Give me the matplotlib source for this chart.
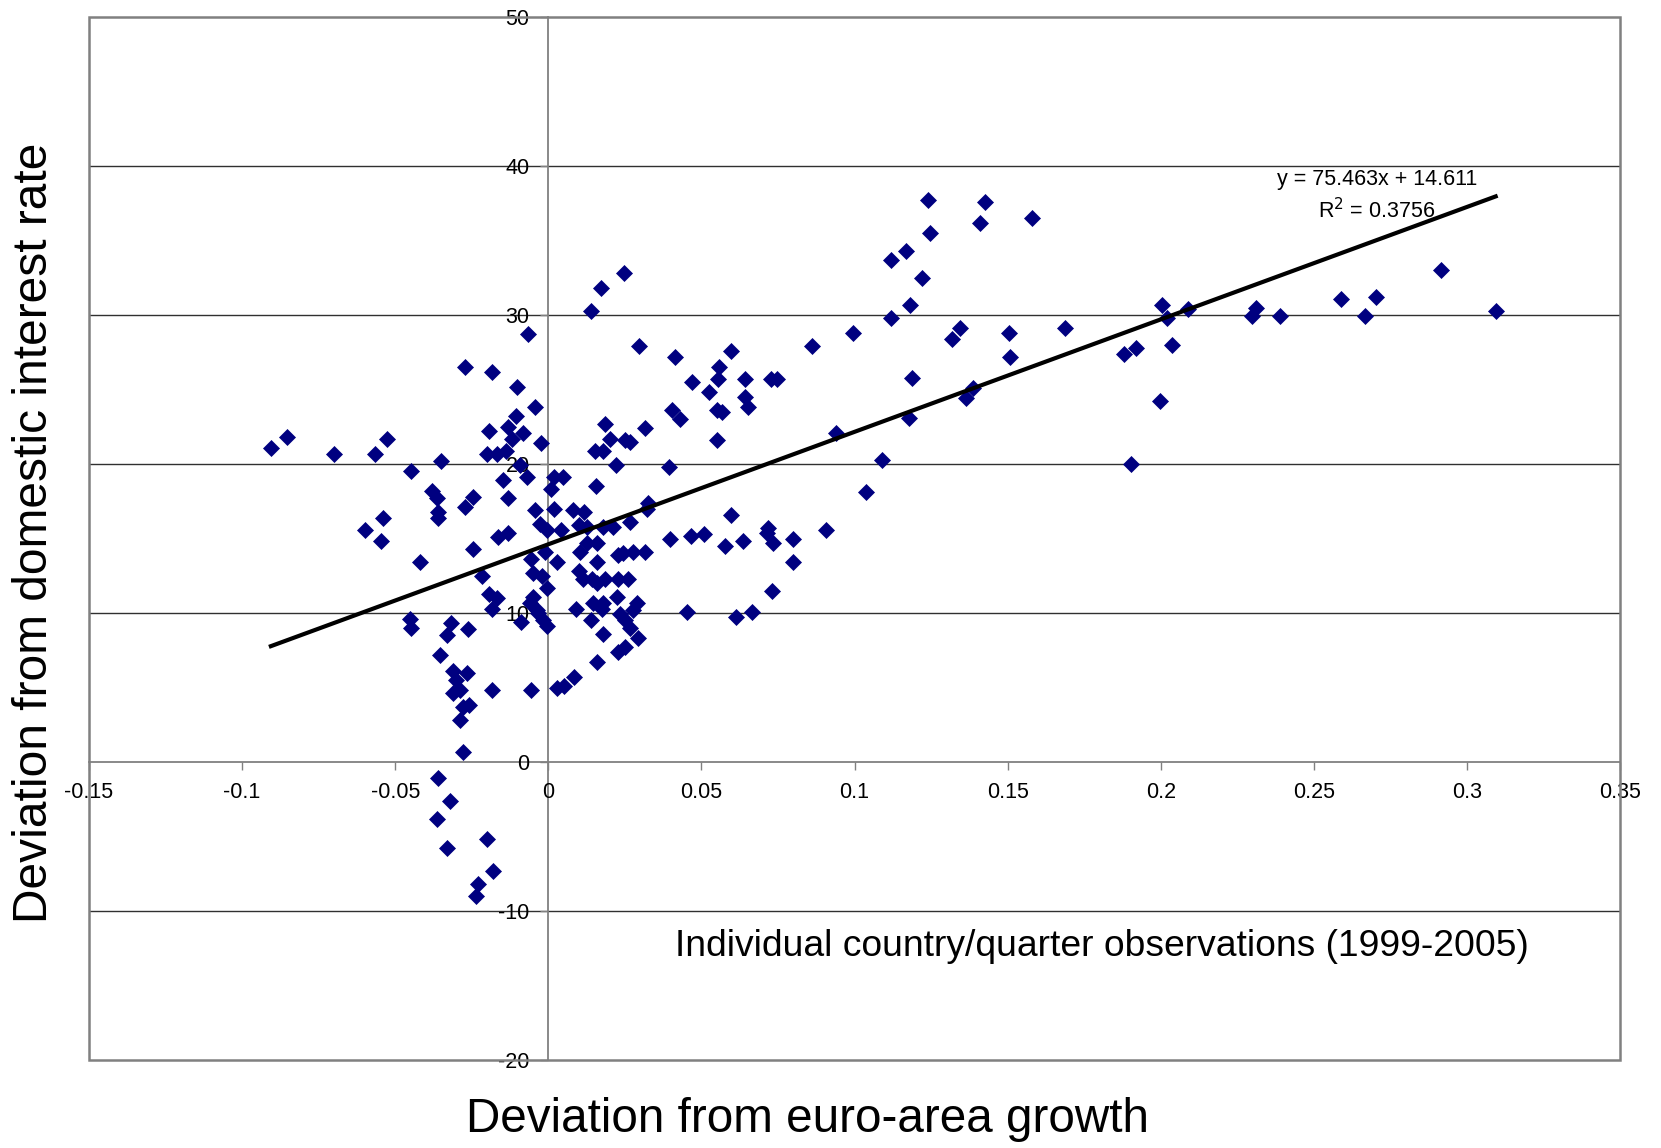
import matplotlib
matplotlib.use("Agg")
import matplotlib.pyplot as plt
import matplotlib.patches as mpatches
import numpy as np

plt.rcParams['font.family'] = ['Liberation Sans', 'DejaVu Sans']

# ---- data ----
growth_dev = [
    -0.0906, -0.0854, -0.070, -0.0566, -0.0527, -0.0597, -0.054, -0.0548, -0.0449, -0.042,
    -0.0452, -0.045, -0.038, -0.0364, -0.0351, -0.036, -0.036, -0.0354, -0.0318, -0.033,
    -0.031, -0.0267, -0.030, -0.031, -0.029, -0.028, -0.026, -0.029, -0.028, -0.036,
    -0.032, -0.0364, -0.033, -0.020, -0.018, -0.023, -0.0237, -0.0273, -0.0263, -0.0247,
    -0.0273, -0.0247, -0.0217, -0.0185, -0.0194, -0.020, -0.0168, -0.0139, -0.0149, -0.0132,
    -0.0165, -0.0132, -0.0194, -0.0168, -0.0185, -0.0185, -0.0132, -0.0119, -0.0106, -0.0103,
    -0.0083, -0.0093, -0.0067, -0.007, -0.0044, -0.0024, -0.0045, -0.0028, -0.0005, -0.0057,
    -0.001, -0.005, -0.002, -0.0005, -0.005, -0.006, -0.0038, -0.009, -0.0034, -0.0018,
    -0.0005, -0.0057,
    0.002, 0.0047, 0.001, 0.0018, 0.004, 0.0027, 0.003, 0.005, 0.0083, 0.008,
    0.0116, 0.0099, 0.0126, 0.0178, 0.021, 0.0126, 0.0158, 0.0103, 0.0158, 0.0228,
    0.0099, 0.0113, 0.0142, 0.016, 0.0185, 0.0227, 0.026, 0.0225, 0.009, 0.0145,
    0.0178, 0.0175, 0.014, 0.0178, 0.016, 0.0228, 0.025, 0.0293, 0.0234, 0.025,
    0.0266, 0.0289, 0.0277, 0.0244, 0.0277, 0.0316, 0.0266, 0.0155, 0.0152, 0.018,
    0.0185, 0.020, 0.022, 0.025, 0.0266, 0.0316, 0.0247, 0.0172, 0.0139, 0.0296,
    0.0326, 0.0323, 0.0393, 0.0403, 0.043, 0.0413, 0.0396, 0.0465, 0.0508, 0.0468,
    0.0524, 0.055, 0.0567, 0.0557, 0.0554, 0.055, 0.0596, 0.0596, 0.0576, 0.0453,
    0.0613, 0.0665, 0.0635, 0.0642, 0.0642, 0.0652, 0.0727, 0.0746, 0.0716, 0.0713,
    0.0733, 0.0729, 0.080, 0.080, 0.086, 0.0906, 0.094, 0.0995, 0.1036, 0.109,
    0.1118, 0.1118, 0.1167, 0.118, 0.1187, 0.1178, 0.122, 0.124, 0.1246, 0.132,
    0.1344, 0.1364, 0.1387, 0.141, 0.1426, 0.1504, 0.1507, 0.158, 0.1686, 0.188,
    0.192, 0.1902, 0.1997, 0.2004, 0.202, 0.2036, 0.209, 0.2298, 0.2311, 0.2389,
    0.2588, 0.2667, 0.2703, 0.2915, 0.3094,
]
rate_dev = [
    21.1, 21.8, 20.7, 20.7, 21.7, 15.6, 16.4, 14.8, 19.5, 13.4,
    9.6, 9.0, 18.2, 17.7, 20.2, 16.8, 16.4, 7.2, 9.3, 8.5,
    6.1, 6.0, 5.5, 4.6, 4.8, 3.7, 3.8, 2.8, 0.7, -1.1,
    -2.6, -3.8, -5.8, -5.2, -7.3, -8.2, -9.0, 26.5, 8.9, 17.8,
    17.1, 14.3, 12.5, 26.2, 22.2, 20.7, 20.7, 20.9, 18.9, 17.7,
    15.1, 15.4, 11.3, 11.0, 10.3, 4.8, 22.5, 21.7, 23.2, 25.2,
    22.1, 19.9, 28.7, 19.1, 23.8, 21.4, 16.9, 16.0, 15.6, 13.6,
    14.1, 12.7, 12.5, 11.7, 11.1, 10.7, 10.2, 9.4, 10.0, 9.5,
    9.1, 4.8,
    19.1, 19.1, 18.3, 17.0, 15.6, 13.4, 5.0, 5.1, 5.7, 16.9,
    16.8, 15.9, 15.8, 15.8, 15.8, 14.7, 14.7, 14.1, 13.4, 13.9,
    12.8, 12.3, 12.3, 12.0, 12.3, 12.3, 12.3, 11.1, 10.3, 10.7,
    10.7, 10.3, 9.5, 8.6, 6.7, 7.4, 7.7, 8.3, 9.9, 9.5,
    9.0, 10.7, 10.2, 14.0, 14.1, 14.1, 16.1, 18.5, 20.9, 20.9,
    22.7, 21.7, 19.9, 21.6, 21.5, 22.4, 32.8, 31.8, 30.3, 27.9,
    17.4, 17.0, 19.8, 23.6, 23.0, 27.2, 15.0, 15.2, 15.3, 25.5,
    24.8, 23.6, 23.5, 26.5, 25.7, 21.6, 27.6, 16.6, 14.5, 10.1,
    9.7, 10.1, 14.8, 25.7, 24.5, 23.8, 25.7, 25.7, 15.7, 15.4,
    14.7, 11.5, 15.0, 13.4, 27.9, 15.6, 22.1, 28.8, 18.1, 20.3,
    33.7, 29.8, 34.3, 30.7, 25.8, 23.1, 32.5, 37.7, 35.5, 28.4,
    29.1, 24.4, 25.1, 36.2, 37.6, 28.8, 27.2, 36.5, 29.1, 27.4,
    27.8, 20.0, 24.2, 30.7, 29.8, 28.0, 30.4, 29.9, 30.5, 29.9,
    31.1, 29.9, 31.2, 33.0, 30.3,
]

trend_slope = 75.463
trend_intercept = 14.611
r_squared = 0.3756

x_ticks = [-0.15, -0.1, -0.05, 0, 0.05, 0.1, 0.15, 0.2, 0.25, 0.3, 0.35]
x_tick_labels = ['-0.15', '-0.1', '-0.05', '0', '0.05', '0.1', '0.15', '0.2', '0.25', '0.3', '0.35']
y_ticks = [-20, -10, 0, 10, 20, 30, 40, 50]
y_tick_labels = ['-20', '-10', '0', '10', '20', '30', '40', '50']

x_label = 'Deviation from euro-area growth'
y_label = 'Deviation from domestic interest rate'
note = 'Individual country/quarter observations (1999-2005)'

# ---- figure ----
W, H = 1661, 1148
fig = plt.figure(figsize=(W / 100, H / 100), dpi=100)
ax = fig.add_axes([89 / W, 1 - 1060 / H, (1620 - 89) / W, (1060 - 17) / H])
ax.set_xlim(-0.15, 0.35)
ax.set_ylim(-20, 50)

spine_col = '#808080'
# horizontal gridlines
for yv in y_ticks:
    if -20 < yv < 50 and yv != 0:
        ax.axhline(yv, color='#303030', lw=1.0, zorder=1)

# spines through zero
for s in ['top', 'right']:
    ax.spines[s].set_visible(False)
ax.spines['left'].set_position(('data', 0))
ax.spines['bottom'].set_position(('data', 0))
for s in ['left', 'bottom']:
    ax.spines[s].set_color(spine_col)
    ax.spines[s].set_linewidth(1.3)
    ax.spines[s].set_zorder(1.5)

# outer frame
frame = mpatches.Rectangle((0, 0), 1, 1, transform=ax.transAxes, fill=False,
                           edgecolor=spine_col, lw=1.8, zorder=1.6, clip_on=False)
ax.add_patch(frame)

ax.set_xticks(x_ticks)
ax.set_xticklabels(x_tick_labels)
ax.set_yticks(y_ticks)
ax.set_yticklabels(y_tick_labels)
ax.tick_params(axis='both', direction='out', length=5.5, width=1.0, color=spine_col,
               labelsize=15.5, labelcolor='black')
ax.tick_params(axis='x', pad=9)
ax.tick_params(axis='y', pad=8)

# scatter points
ax.plot(growth_dev, rate_dev, linestyle='none', marker='D', markersize=8.0,
        color='#000080', markeredgecolor='#000080', markeredgewidth=0.5,
        zorder=3, clip_on=False)

# trend line
xs = np.array([min(growth_dev), max(growth_dev)])
ax.plot(xs, trend_slope * xs + trend_intercept, color='black', lw=3.0, zorder=4)

ax.text(0.2706, 39.1, f'y = {trend_slope}x + {trend_intercept}', ha='center', va='center',
        fontsize=15.5, zorder=5)
ax.text(0.2706, 37.0, f'R$^2$ = {r_squared}', ha='center', va='center', fontsize=15.5, zorder=5)

ax.text(0.1808, -12.35, note, ha='center', va='center', fontsize=26.8)

fig.text(808 / W, 1 - 1120 / H, x_label, ha='center', va='center', fontsize=34.3)
fig.text(35 / W, 1 - 533 / H, y_label, ha='center', va='center', rotation=90, fontsize=34.5)

fig.savefig('out.png', dpi=100, facecolor='white')
